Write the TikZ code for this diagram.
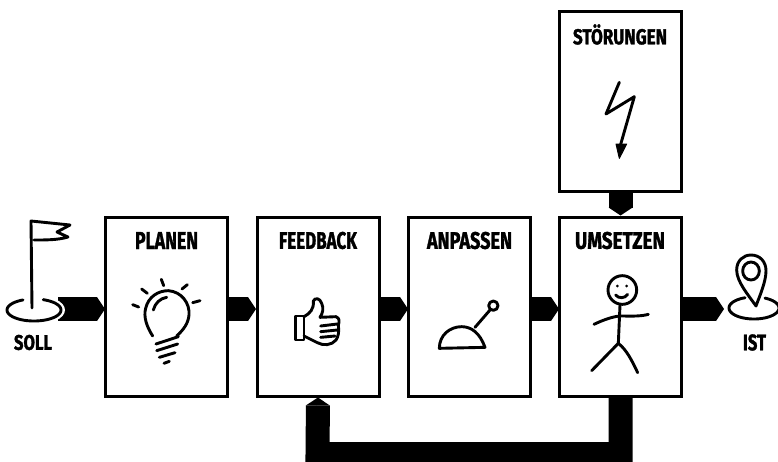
\documentclass[tikz,border=0pt]{standalone}
\usepackage{fontspec}
\usepackage{graphicx}
\usetikzlibrary{arrows.meta,calc}
\setmainfont{Fira Sans}[UprightFont=* Bold,FakeBold=1.6]
\newcommand{\handtxt}[3]{\resizebox{#1pt}{#2pt}{#3}}
\tikzset{
  stepbox/.style={draw=black,fill=white,line width=3pt,minimum width=122pt,minimum height=179pt,inner sep=0pt},
  conn/.style={draw=black,line width=24pt,-{Triangle[length=8pt,width=24pt,line width=0pt]}},
  label/.style={inner sep=0pt,text=black},
  sketch/.style={draw=black,line width=2.9pt,line cap=round,line join=round},
  zoomed/.style={x=0.33333pt,y=-0.33333pt}
}
\begin{document}
\begin{tikzpicture}[x=1pt,y=-1pt]
\useasboundingbox (0,0) rectangle (778,461);
\clip (0,0) rectangle (778,461);
% boxes
\node[stepbox] (plan) at (166,306.5) {};
\node[stepbox] (feed) at (318,306.5) {};
\node[stepbox] (anp) at (469,306.5) {};
\node[stepbox] (ums) at (620.5,306.5) {};
\node[stepbox,minimum height=180pt] (stoer) at (620.5,101) {};
% titles
\node[label] (tplan) at (166.5,240.5) {\handtxt{63}{17}{PLANEN}};
\node[label] (tfeed) at (318,240.5) {\handtxt{78}{17}{FEEDBACK}};
\node[label] (tanp) at (469.5,240.5) {\handtxt{85}{17}{ANPASSEN}};
\node[label] (tums) at (620,240.5) {\handtxt{90}{17}{UMSETZEN}};
\node[label] (tstoer) at (620,34.5) {\handtxt{94}{20}{STÖRUNGEN}};
\node[label] (tsoll) at (33,342.5) {\handtxt{38}{15}{SOLL}};
\node[label] (tist) at (754.5,342.5) {\handtxt{23}{16}{IST}};
% connectors
\coordinate (sollend) at (58,309);
\coordinate (istend) at (724,309);
\coordinate (feedr) at (620.5,454);
\coordinate (feedl) at (317.5,454);
\coordinate (planin) at (105,309);
\coordinate (feedin) at (256,309);
\coordinate (planout) at (226,309);
\coordinate (feedout) at (378,309);
\coordinate (anpin) at (408,309);
\coordinate (anpout) at (529,309);
\coordinate (umsin) at (559,309);
\coordinate (umsout) at (681,309);
\draw[conn] (sollend) -- (planin);
\draw[conn] (planout) -- (feedin);
\draw[conn] (feedout) -- (anpin);
\draw[conn] (anpout) -- (umsin);
\draw[conn] (umsout) -- (istend);
\draw[conn] (stoer.south) -- (ums.north);
\draw[conn,line join=miter] (ums.south) -- (feedr) -- (feedl) -- (feed.south);
% soll flag
\fill[white] (34,310) ellipse [x radius=31,y radius=15];
\draw[sketch] plot[domain=-70:246,samples=60,smooth] ({34+27*cos(\x)},{310+11*sin(\x)});
\draw[sketch] (32,308) -- (31,221) -- (70,225) -- (57,232) -- (68,237) .. controls (58,240) and (46,240) .. (34,240);
% bulb
\begin{scope}[shift={(0,200)},zoomed]
\draw[sketch] (458,408) .. controls (440,380) and (430,350) .. (437,325) .. controls (445,290) and (475,272) .. (505,272) .. controls (545,275) and (570,310) .. (567,345) .. controls (565,370) and (550,390) .. (530,408);
\draw[sketch] (460,330) .. controls (465,310) and (480,295) .. (500,292);
\draw[sketch] (468,432) -- (535,410);
\draw[sketch] (470,452) -- (533,432);
\draw[sketch] (478,472) -- (525,458);
\draw[sketch] (492,490) -- (508,484);
\draw[sketch] (398,314) -- (416,321);
\draw[sketch] (425,267) -- (442,280);
\draw[sketch] (484,238) -- (491,257);
\draw[sketch] (546,267) -- (562,254);
\draw[sketch] (578,308) -- (600,302);
\end{scope}
% thumb
\begin{scope}[shift={(230,200)},zoomed]
\draw[sketch] (197,348) -- (222,348) -- (222,420) -- (197,420) -- cycle;
\draw[sketch] (222,350) .. controls (240,340) and (252,328) .. (250,303) .. controls (255,292) and (270,294) .. (275,310) .. controls (282,325) and (278,340) .. (270,352) -- (318,350) .. controls (330,355) and (328,365) .. (325,375) .. controls (328,395) and (325,410) .. (318,420) .. controls (305,436) and (280,438) .. (262,428) -- (222,408);
\draw[sketch] (272,378) -- (322,372);
\draw[sketch] (272,395) -- (322,390);
\draw[sketch] (272,412) -- (315,408);
\end{scope}
% lever
\begin{scope}[shift={(230,200)},zoomed]
\draw[sketch] (628,445) -- (765,442) .. controls (750,400) and (725,380) .. (695,380) .. controls (660,380) and (628,405) .. (628,445) -- cycle;
\draw[sketch] (735,382) -- (780,330);
\draw[sketch] (790,317) circle [radius=14];
\end{scope}
% person
\begin{scope}[shift={(530,200)},zoomed]
\draw[sketch] (277,270) circle [radius=43];
\fill (262,258) circle [radius=4.5];
\fill (290,258) circle [radius=4.5];
\draw[sketch] (257,285) .. controls (265,296) and (285,296) .. (293,283);
\draw[sketch] (270,315) -- (265,430);
\draw[sketch] (192,373) .. controls (215,362) and (245,350) .. (270,348) .. controls (300,348) and (330,350) .. (355,343);
\draw[sketch] (265,430) -- (185,512);
\draw[sketch] (265,430) .. controls (290,450) and (305,480) .. (323,518);
% pin
\draw[sketch] (678,318) .. controls (655,285) and (620,245) .. (620,210) .. controls (620,182) and (640,165) .. (663,165) .. controls (690,165) and (708,185) .. (708,212) .. controls (708,245) and (690,285) .. (678,318) -- cycle;
\draw[sketch] (663,213) ellipse [x radius=25,y radius=27];
\end{scope}
\draw[sketch] plot[domain=-64:249,samples=60,smooth] ({754+25*cos(\x)},{308+11*sin(\x)});
% bolt
\begin{scope}[shift={(540,0)},zoomed]
\draw[sketch] (238,247) -- (198,342) -- (283,290) -- (240,440);
\fill[draw=black,line width=1pt,line join=round] (228,432) -- (260,432) -- (238,475) -- cycle;
\end{scope}
\end{tikzpicture}
\end{document}
